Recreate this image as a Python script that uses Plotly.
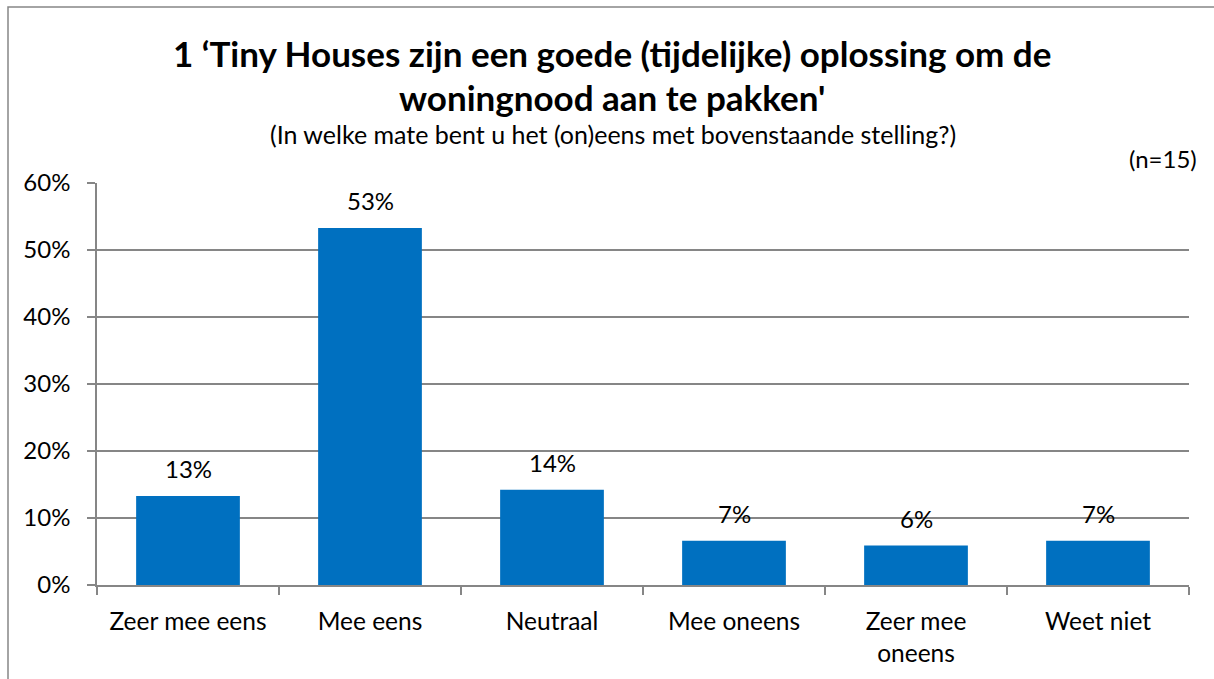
import plotly.graph_objects as go

# ==================== DADOS ====================
categorias = ["Zeer mee eens", "Mee eens", "Neutraal", "Mee oneens", "Zeer mee<br>oneens", "Weet niet"]
percentagens = [0.133, 0.533, 0.142, 0.066, 0.059, 0.066]
rotulos = ["13%", "53%", "14%", "7%", "6%", "7%"]

titulo_l1 = "1 \u2018Tiny Houses zijn een goede (tijdelijke) oplossing om de"
titulo_l2 = "woningnood aan te pakken'"
subtitulo = "(In welke mate bent u het (on)eens met bovenstaande stelling?)"
n_texto = "(n=15)"

FONTE = "Lato"
CINZA = "#868686"
AZUL = "#0070C0"

W, H = 1214, 679
ML, MR, MT, MB = 97, 25, 183, 92
pw, ph = W - ML - MR, H - MT - MB


def py(pix):
    # pixel vertical da janela -> coordenada paper
    return (MT + ph - pix) / ph


def px_(pix):
    return (pix - ML) / pw


fig = go.Figure()
fig.add_trace(go.Bar(x=categorias, y=percentagens, marker=dict(color=AZUL, line=dict(width=0)),
                     hoverinfo="skip"))

# rótulos acima das barras
for cat, val, txt in zip(categorias, percentagens, rotulos):
    fig.add_annotation(x=cat, y=val, text=txt, showarrow=False, yanchor="middle", yshift=27,
                       font=dict(family=FONTE, size=24, color="black"))

# título em duas linhas
for txt, yy in [(titulo_l1, 52), (titulo_l2, 97)]:
    fig.add_annotation(text="<b>" + txt + "</b>", xref="paper", yref="paper", x=px_(612), y=py(yy),
                       showarrow=False, xanchor="center", yanchor="middle",
                       font=dict(family=FONTE, size=35, color="black"))

fig.add_annotation(text=subtitulo, xref="paper", yref="paper", x=px_(613), y=py(134),
                   showarrow=False, xanchor="center", yanchor="middle",
                   font=dict(family=FONTE, size=25, color="black"))
fig.add_annotation(text=n_texto, xref="paper", yref="paper", x=px_(1199), y=py(158),
                   showarrow=False, xanchor="right", yanchor="middle",
                   font=dict(family=FONTE, size=24, color="black"))

# moldura do gráfico
fig.add_shape(type="rect", xref="paper", yref="paper",
              x0=px_(8), x1=px_(1230), y0=py(700), y1=py(6),
              line=dict(color=CINZA, width=1.5), layer="below")

fig.update_layout(
    width=W, height=H,
    margin=dict(l=ML, r=MR, t=MT, b=MB),
    paper_bgcolor="white", plot_bgcolor="white",
    bargap=0.43,
    showlegend=False,
    font=dict(family=FONTE, size=24, color="black"),
)
fig.update_yaxes(range=[0, 0.6], dtick=0.1, tickformat=".0%", showgrid=True, gridcolor=CINZA, gridwidth=1.5,
                 showline=True, linecolor=CINZA, linewidth=1.5, ticks="outside", ticklen=8, tickcolor=CINZA,
                 tickwidth=1.5, ticklabelstandoff=12, zeroline=False, fixedrange=True)
fig.update_xaxes(showline=True, linecolor=CINZA, linewidth=1.5, ticks="outside", ticklen=8, tickcolor=CINZA,
                 tickwidth=1.5, tickson="boundaries", showgrid=False, ticklabelstandoff=14, fixedrange=True,
                 tickfont=dict(size=24.5))

# sem margem do body, para a figura começar no canto da janela
fig.write_html("out.html", config={"displayModeBar": False},
               post_script="document.body.style.margin='0';")
